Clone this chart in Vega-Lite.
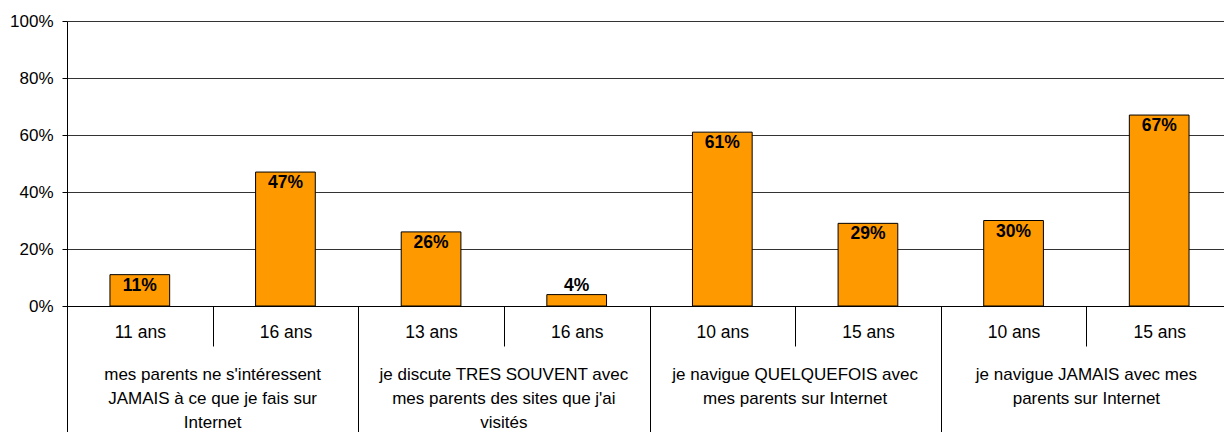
{
  "$schema": "https://vega.github.io/schema/vega-lite/v6.json",
  "autosize": "none",
  "width": 1157,
  "height": 285,
  "padding": {"left": 67, "top": 21, "right": 0, "bottom": 126},
  "background": "white",
  "config": {
    "view": {"stroke": null},
    "font": "Liberation Sans",
    "axis": {"labelFont": "Liberation Sans", "labelColor": "black", "labelFontSize": 17.5}
  },
  "data": {
    "values": [
      {"cle": "A|11 ans", "groupe": "mes parents ne s'intéressent\nJAMAIS à ce que je fais sur\nInternet", "valeur": 0.11},
      {"cle": "A|16 ans", "groupe": "mes parents ne s'intéressent\nJAMAIS à ce que je fais sur\nInternet", "valeur": 0.47},
      {"cle": "B|13 ans", "groupe": "je discute TRES SOUVENT avec\nmes parents des sites que j'ai\nvisités", "valeur": 0.26},
      {"cle": "B|16 ans", "groupe": "je discute TRES SOUVENT avec\nmes parents des sites que j'ai\nvisités", "valeur": 0.04},
      {"cle": "C|10 ans", "groupe": "je navigue QUELQUEFOIS avec\nmes parents sur Internet", "valeur": 0.61},
      {"cle": "C|15 ans", "groupe": "je navigue QUELQUEFOIS avec\nmes parents sur Internet", "valeur": 0.29},
      {"cle": "D|10 ans", "groupe": "je navigue JAMAIS avec mes\nparents sur Internet", "valeur": 0.30},
      {"cle": "D|15 ans", "groupe": "je navigue JAMAIS avec mes\nparents sur Internet", "valeur": 0.67}
    ]
  },
  "encoding": {
    "x": {
      "field": "cle", "type": "nominal", "sort": null,
      "scale": {"paddingInner": 0, "paddingOuter": 0, "range": [0, 1165]},
      "axis": {
        "title": null, "labelAngle": 0, "tickBand": "extent", "labelOverlap": false,
        "labelExpr": "split(datum.label, '|')[1]",
        "domainColor": "black", "tickColor": "black",
        "tickSize": {"condition": {"test": "datum.extra || indexof(['A|16 ans','B|16 ans','C|15 ans','D|15 ans'], datum.value) >= 0", "value": 126}, "value": 40},
        "labelPadding": {"condition": {"test": "indexof(['A|16 ans','B|16 ans','C|15 ans','D|15 ans'], datum.value) >= 0", "value": -109}, "value": -23}
      }
    }
  },
  "layer": [
    {
      "mark": {"type": "bar", "width": {"band": 0.41}, "color": "#FF9900", "stroke": "black", "strokeWidth": 1},
      "encoding": {
        "y": {
          "field": "valeur", "type": "quantitative",
          "scale": {"domain": [0, 1]},
          "axis": {
            "title": null, "format": ".0%", "values": [0, 0.2, 0.4, 0.6, 0.8, 1],
            "grid": true, "gridColor": "#333", "gridWidth": 1, "labelFontSize": 17,
            "domainColor": "black", "tickColor": "black", "tickSize": 5, "labelPadding": 9
          }
        }
      }
    },
    {
      "transform": [{"filter": "datum.valeur >= 0.1"}],
      "mark": {"type": "text", "fontWeight": "bold", "fontSize": 17.5, "dy": 16, "baseline": "alphabetic"},
      "encoding": {
        "y": {"field": "valeur", "type": "quantitative"},
        "text": {"field": "valeur", "type": "quantitative", "format": ".0%"}
      }
    },
    {
      "transform": [{"filter": "datum.valeur < 0.1"}],
      "mark": {"type": "text", "fontWeight": "bold", "fontSize": 17.5, "dy": -4, "baseline": "alphabetic"},
      "encoding": {
        "y": {"field": "valeur", "type": "quantitative"},
        "text": {"field": "valeur", "type": "quantitative", "format": ".0%"}
      }
    },
    {
      "transform": [
        {"window": [{"op": "row_number", "as": "rang"}], "groupby": ["groupe"]},
        {"filter": "datum.rang == 2"}
      ],
      "mark": {"type": "text", "fontSize": 17, "baseline": "top", "align": "center", "lineBreak": "\n", "lineHeight": 24, "dy": 61},
      "encoding": {
        "x": {"field": "cle", "type": "nominal", "sort": null, "bandPosition": 0},
        "y": {"datum": 0},
        "text": {"field": "groupe"}
      }
    }
  ]
}
